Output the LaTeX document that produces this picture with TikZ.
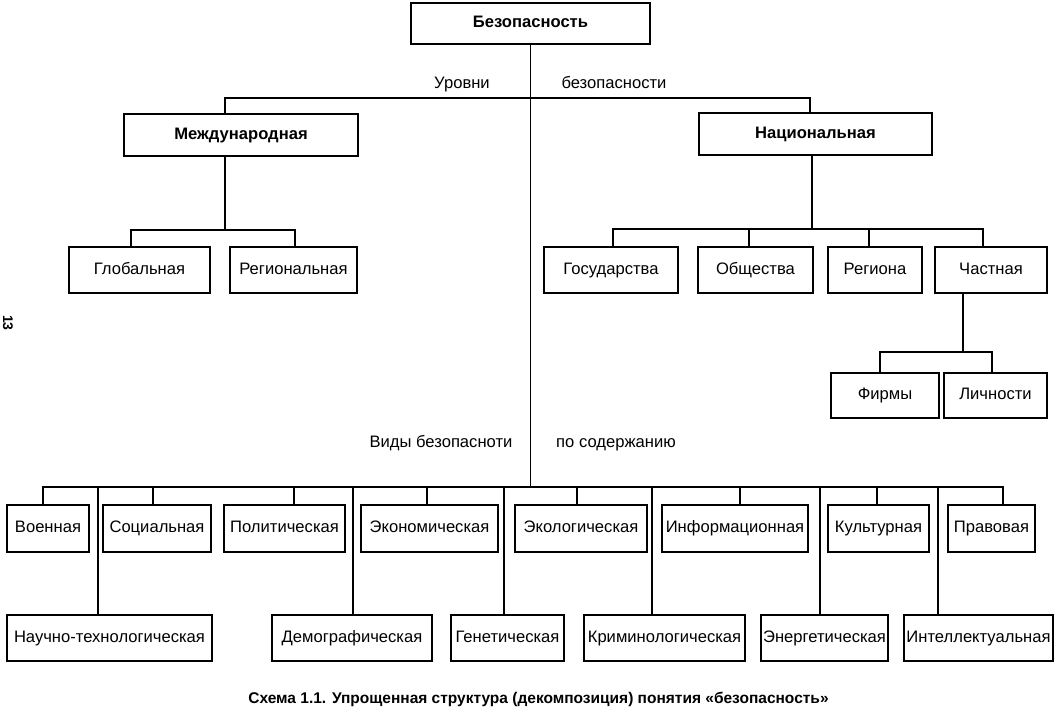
\documentclass[tikz,border=0pt]{standalone}
\usepackage{fontspec}
\setmainfont{Liberation Sans}
\begin{document}
\begin{tikzpicture}[x=1pt,y=-1pt,
  box/.style={draw, line width=1.5pt, inner sep=0pt, text height=12pt, text depth=3.5pt, font=\fontsize{16.6}{19}\selectfont},
  bbox/.style={box, font=\fontsize{16.6}{19}\selectfont\bfseries},
  wire/.style={line width=1.8pt},
  lbl/.style={inner sep=0pt, text height=12pt, text depth=3.5pt, font=\fontsize{16.6}{19}\selectfont}]
\useasboundingbox (0,0) rectangle (1060,719);
% top
\node[bbox, minimum width=239pt, minimum height=41pt] (bez) at (530.5,23.5) {Безопасность};
\node[bbox, minimum width=234pt, minimum height=42pt] (mezh) at (241,135) {Международная};
\node[bbox, minimum width=233pt, minimum height=42pt] (nat) at (815.5,134) {Национальная};
\node[box, minimum width=141pt, minimum height=46pt] (glob) at (139.5,270) {Глобальная};
\node[box, minimum width=127pt, minimum height=46pt] (reg) at (293.5,270) {Региональная};
\node[box, minimum width=134pt, minimum height=46pt] (gos) at (611,270) {Государства};
\node[box, minimum width=115pt, minimum height=46pt] (obsh) at (755.5,270) {Общества};
\node[box, minimum width=94pt, minimum height=46pt] (regn) at (875,270) {Региона};
\node[box, minimum width=112pt, minimum height=46pt] (chast) at (991,270) {Частная};
\node[box, minimum width=108pt, minimum height=45pt] (firm) at (885,395.5) {Фирмы};
\node[box, minimum width=103pt, minimum height=45pt] (lich) at (995.5,395.5) {Личности};
% top row of kinds
\node[box, minimum width=82pt, minimum height=47pt] (voen) at (48,528.5) {Военная};
\node[box, minimum width=108pt, minimum height=47pt] (soc) at (157,528.5) {Социальная};
\node[box, minimum width=121pt, minimum height=47pt] (pol) at (284.5,528.5) {Политическая};
\node[box, minimum width=137pt, minimum height=47pt] (econ) at (429.5,528.5) {Экономическая};
\node[box, minimum width=132pt, minimum height=47pt] (ecol) at (581,528.5) {Экологическая};
\node[box, minimum width=146pt, minimum height=47pt] (inf) at (735,528.5) {Информационная};
\node[box, minimum width=101pt, minimum height=47pt] (kult) at (878.5,528.5) {Культурная};
\node[box, minimum width=87pt, minimum height=47pt] (prav) at (991.5,528.5) {Правовая};
% bottom row of kinds
\node[box, minimum width=205pt, minimum height=46pt] (nauch) at (109.5,638) {Научно-технологическая};
\node[box, minimum width=160pt, minimum height=46pt] (dem) at (352,638) {Демографическая};
\node[box, minimum width=113pt, minimum height=46pt] (gen) at (507.5,638) {Генетическая};
\node[box, minimum width=161pt, minimum height=46pt] (krim) at (664.5,638) {Криминологическая};
\node[box, minimum width=127pt, minimum height=46pt] (energ) at (824.5,638) {Энергетическая};
\node[box, minimum width=149pt, minimum height=46pt] (intel) at (978.5,638) {Интеллектуальная};
% labels
\node[lbl] (lu) at (462,84) {Уровни};
\node[lbl] (lb) at (614,84) {безопасности};
\node[lbl] (lv) at (441,443) {Виды безопасноти};
\node[lbl] (lp) at (616,443) {по содержанию};
\node[lbl, rotate=-90, text height=, text depth=, font=\fontsize{14}{16}\selectfont\bfseries] (pg) at (8,323) {13};
\node[lbl, font=\fontsize{15.5}{18}\selectfont\bfseries] (cap) at (538.5,699) {Схема 1.1. Упрощенная структура (декомпозиция) понятия «безопасность»};
% buses
\coordinate (lvl) at (530.5,98);
\coordinate (bot) at (530.5,487);
\coordinate (mbus) at (225,230);
\coordinate (nbus) at (812,229);
\coordinate (cbus) at (963,352);
% trunk and levels
\draw[wire] (bez.south) -- (bez.south |- bot);
\draw[wire] ([xshift=-16pt]mezh.north) |- (lvl) -| ([xshift=-5.5pt]nat.north);
% international
\draw[wire] ([xshift=-16pt]mezh.south) -- (mbus);
\draw[wire] ([xshift=-8.5pt]glob.north) |- (mbus) -| ([xshift=1.5pt]reg.north);
% national
\draw[wire] ([xshift=-3.5pt]nat.south) -- ([xshift=-3.5pt]nat.south |- nbus);
\draw[wire] ([xshift=2pt]gos.north) |- (nbus) -| ([xshift=-8pt]chast.north);
\draw[wire] ([xshift=-6.5pt]obsh.north) -- ([xshift=-6.5pt]obsh.north |- nbus);
\draw[wire] ([xshift=-6pt]regn.north) -- ([xshift=-6pt]regn.north |- nbus);
% private
\draw[wire] ([xshift=-28pt]chast.south) -- (cbus);
\draw[wire] ([xshift=-5pt]firm.north) |- (cbus) -| ([xshift=-3.5pt]lich.north);
% kinds
\draw[wire] ([xshift=-5pt]voen.north) |- (bot) -| ([xshift=11.5pt]prav.north);
\draw[wire] ([xshift=-4pt]soc.north) -- ([xshift=-4pt]soc.north |- bot);
\draw[wire] ([xshift=9.5pt]pol.north) -- ([xshift=9.5pt]pol.north |- bot);
\draw[wire] ([xshift=-2.5pt]econ.north) -- ([xshift=-2.5pt]econ.north |- bot);
\draw[wire] ([xshift=-4pt]ecol.north) -- ([xshift=-4pt]ecol.north |- bot);
\draw[wire] ([xshift=5pt]inf.north) -- ([xshift=5pt]inf.north |- bot);
\draw[wire] ([xshift=-1.5pt]kult.north) -- ([xshift=-1.5pt]kult.north |- bot);
\draw[wire] ([xshift=-11.5pt]nauch.north) -- ([xshift=-11.5pt]nauch.north |- bot);
\draw[wire] ([xshift=1pt]dem.north) -- ([xshift=1pt]dem.north |- bot);
\draw[wire] ([xshift=-3.5pt]gen.north) -- ([xshift=-3.5pt]gen.north |- bot);
\draw[wire] ([xshift=-12.5pt]krim.north) -- ([xshift=-12.5pt]krim.north |- bot);
\draw[wire] ([xshift=-4.5pt]energ.north) -- ([xshift=-4.5pt]energ.north |- bot);
\draw[wire] ([xshift=-40.5pt]intel.north) -- ([xshift=-40.5pt]intel.north |- bot);
\end{tikzpicture}
\end{document}
